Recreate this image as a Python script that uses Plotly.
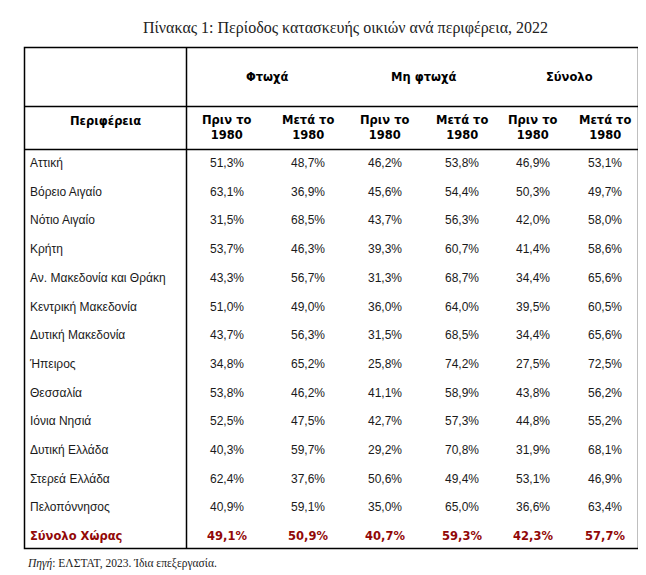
import plotly.graph_objects as go

# ---------------- data ----------------
regions = ["Αττική", "Βόρειο Αιγαίο", "Νότιο Αιγαίο", "Κρήτη",
           "Αν. Μακεδονία και Θράκη", "Κεντρική Μακεδονία", "Δυτική Μακεδονία",
           "Ήπειρος", "Θεσσαλία", "Ιόνια Νησιά", "Δυτική Ελλάδα",
           "Στερεά Ελλάδα", "Πελοπόννησος"]
poor_before = [51.3, 63.1, 31.5, 53.7, 43.3, 51.0, 43.7, 34.8, 53.8, 52.5, 40.3, 62.4, 40.9]
poor_after = [48.7, 36.9, 68.5, 46.3, 56.7, 49.0, 56.3, 65.2, 46.2, 47.5, 59.7, 37.6, 59.1]
nonpoor_before = [46.2, 45.6, 43.7, 39.3, 31.3, 36.0, 31.5, 25.8, 41.1, 42.7, 29.2, 50.6, 35.0]
nonpoor_after = [53.8, 54.4, 56.3, 60.7, 68.7, 64.0, 68.5, 74.2, 58.9, 57.3, 70.8, 49.4, 65.0]
total_before = [46.9, 50.3, 42.0, 41.4, 34.4, 39.5, 34.4, 27.5, 43.8, 44.8, 31.9, 53.1, 36.6]
total_after = [53.1, 49.7, 58.0, 58.6, 65.6, 60.5, 65.6, 72.5, 56.2, 55.2, 68.1, 46.9, 63.4]

country_label = "Σύνολο Χώρας"
country_values = [49.1, 50.9, 40.7, 59.3, 42.3, 57.7]

group_headers = ["Φτωχά", "Μη φτωχά", "Σύνολο"]
sub_headers = ["Πριν το<br>1980", "Μετά το<br>1980"] * 3
region_header = "Περιφέρεια"
title = "Πίνακας 1: Περίοδος κατασκευής οικιών ανά περιφέρεια, 2022"
source_note = "<i>Πηγή</i>: ΕΛΣΤΑΤ, 2023. Ίδια επεξεργασία."

# ---------------- layout constants (reference-page pixels) ----------------
OFF = 8                      # default page margin around the plot div
W, H = 646 - OFF, 575 - OFF  # figure size so the page does not overflow
COL_X = [227, 308, 385, 462, 533, 605]   # centres of the value columns
LABEL_X = 30
ROW0_PX, ROW_STEP = 164, 28.7            # first row centre and row pitch
TBL_L, TBL_R, DIV_X = 24.5, 638.5, 186.5
Y_TOP, Y_MID, Y_HDR, Y_BOT = 47.5, 106.5, 149.5, 548.5

BODY_FONT = "Liberation Sans"
HEAD_FONT = "DejaVu Sans"
RED = "#920808"


def fmt(v):
    return f"{v:.1f}%".replace(".", ",")


def py(p):
    """reference pixel -> paper y"""
    return 1 - (p - OFF) / H


columns = [poor_before, poor_after, nonpoor_before, nonpoor_after, total_before, total_after]
n = len(regions)

fig = go.Figure()

# region labels
fig.add_trace(go.Scatter(
    x=[LABEL_X] * n, y=list(range(n)), mode="text", text=regions,
    textposition="middle right",
    textfont=dict(family=BODY_FONT, size=12, color="#1a1a1a"),
    hoverinfo="skip", showlegend=False))

# value columns
for cx, col in zip(COL_X, columns):
    fig.add_trace(go.Scatter(
        x=[cx] * n, y=list(range(n)), mode="text", text=[fmt(v) for v in col],
        textposition="middle center",
        textfont=dict(family=BODY_FONT, size=12, color="#1a1a1a"),
        hoverinfo="skip", showlegend=False))

# country total row
fig.add_trace(go.Scatter(
    x=[LABEL_X], y=[n], mode="text", text=[country_label],
    textposition="middle right",
    textfont=dict(family=HEAD_FONT, size=11.5, color=RED, weight="bold"),
    hoverinfo="skip", showlegend=False))
fig.add_trace(go.Scatter(
    x=COL_X, y=[n] * len(COL_X), mode="text", text=[fmt(v) for v in country_values],
    textposition="middle center",
    textfont=dict(family=HEAD_FONT, size=11.5, color=RED, weight="bold"),
    hoverinfo="skip", showlegend=False))

# table lines
line = dict(color="black", width=1.5)
shapes = [
    dict(type="rect", xref="x", yref="paper", x0=TBL_L, x1=TBL_R, y0=py(Y_BOT), y1=py(Y_TOP), line=line),
    dict(type="line", xref="x", yref="paper", x0=DIV_X, x1=DIV_X, y0=py(Y_BOT), y1=py(Y_TOP), line=line),
    dict(type="line", xref="x", yref="paper", x0=TBL_L, x1=TBL_R, y0=py(Y_MID), y1=py(Y_MID), line=line),
    dict(type="line", xref="x", yref="paper", x0=TBL_L, x1=TBL_R, y0=py(Y_HDR), y1=py(Y_HDR), line=line),
]

annotations = []
head_font = dict(family=HEAD_FONT, size=11.5, color="black", weight="bold")
common = dict(xref="x", yref="paper", showarrow=False, yanchor="middle")
for i, g in enumerate(group_headers):
    annotations.append(dict(x=(COL_X[2 * i] + COL_X[2 * i + 1]) / 2, y=py(77), text=g,
                            font=head_font, xanchor="center", **common))
for cx, s in zip(COL_X, sub_headers):
    annotations.append(dict(x=cx, y=py(127), text=s, font=head_font, align="center",
                            xanchor="center", **common))
annotations.append(dict(x=(TBL_L + DIV_X) / 2, y=py(121), text=region_header,
                        font=head_font, xanchor="center", **common))
annotations.append(dict(x=345, y=py(28), text=title, xanchor="center",
                        font=dict(family="Liberation Serif", size=16, color="#222"), **common))
annotations.append(dict(x=25, y=py(563), text=source_note, xanchor="left",
                        font=dict(family="Liberation Serif", size=11.5, color="#222"), **common))

fig.update_layout(
    width=W, height=H, margin=dict(l=0, r=0, t=0, b=0),
    paper_bgcolor="white", plot_bgcolor="white",
    xaxis=dict(range=[OFF, OFF + W], visible=False, fixedrange=True),
    yaxis=dict(range=[(OFF + H - ROW0_PX) / ROW_STEP, (OFF - ROW0_PX) / ROW_STEP],
               visible=False, fixedrange=True),
    shapes=shapes, annotations=annotations, showlegend=False)

fig.write_html("out.html")
